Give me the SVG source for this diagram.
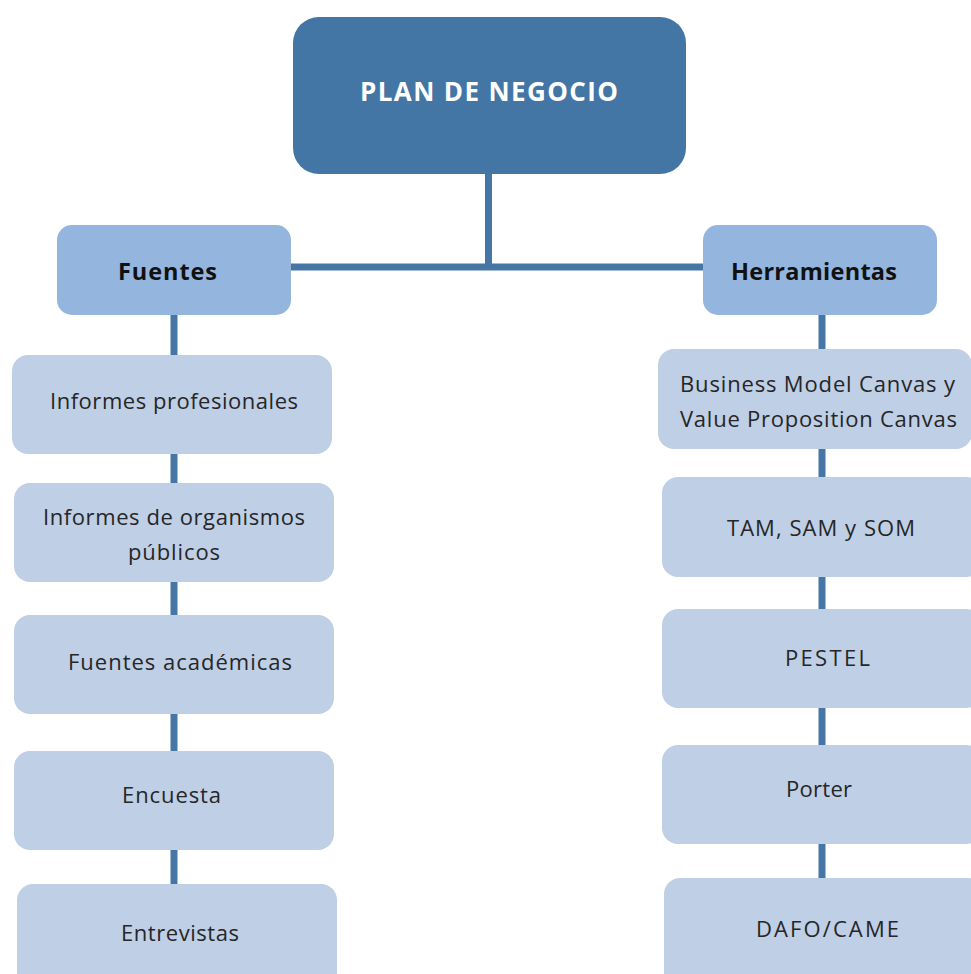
<svg xmlns="http://www.w3.org/2000/svg" width="971" height="974" viewBox="0 0 971 974">
<style>
.root{fill:#4476A5}
.mid{fill:#93B5DE}
.leaf{fill:#BFCFE6}
.conn{stroke:#4676A5;stroke-width:7;fill:none}
text{font-family:"Open Sans",Lato,"Liberation Sans",sans-serif;text-anchor:middle}
.t0{font-size:26px;font-weight:bold;fill:#ffffff}
.t1{font-size:23.5px;font-weight:bold;fill:#111111}
.t2{font-size:22px;fill:#262626}
</style>
<rect width="971" height="974" fill="#ffffff"/>
<g id="connectors">
<line class="conn" x1="488.5" y1="170" x2="488.5" y2="267"/>
<line class="conn" x1="288" y1="267" x2="706" y2="267"/>
<line class="conn" x1="174" y1="312" x2="174" y2="358"/>
<line class="conn" x1="174" y1="452" x2="174" y2="486"/>
<line class="conn" x1="174" y1="580" x2="174" y2="618"/>
<line class="conn" x1="174" y1="712" x2="174" y2="754"/>
<line class="conn" x1="174" y1="847" x2="174" y2="887"/>
<line class="conn" x1="822" y1="312" x2="822" y2="352"/>
<line class="conn" x1="822" y1="446" x2="822" y2="480"/>
<line class="conn" x1="822" y1="574" x2="822" y2="612"/>
<line class="conn" x1="822" y1="705" x2="822" y2="748"/>
<line class="conn" x1="822" y1="841" x2="822" y2="881"/>
</g>
<g id="plan">
<rect class="root" x="293" y="17" width="393" height="157" rx="26"/>
<text class="t0" x="489" y="101" textLength="258" lengthAdjust="spacing">PLAN DE NEGOCIO</text>
</g>
<g id="fuentes">
<rect class="mid" x="57" y="225" width="234" height="90" rx="15"/>
<text class="t1" x="167.5" y="280" textLength="99" lengthAdjust="spacing">Fuentes</text>
</g>
<g id="herramientas">
<rect class="mid" x="703" y="225" width="234" height="90" rx="15"/>
<text class="t1" x="814" y="280" textLength="166" lengthAdjust="spacing">Herramientas</text>
</g>
<g id="informes-profesionales">
<rect class="leaf" x="12" y="355" width="320" height="99" rx="16"/>
<text class="t2" x="174" y="409" textLength="248" lengthAdjust="spacing">Informes profesionales</text>
</g>
<g id="informes-organismos">
<rect class="leaf" x="14" y="483" width="320" height="99" rx="16"/>
<text class="t2" x="174" y="525" textLength="262" lengthAdjust="spacing">Informes de organismos</text>
<text class="t2" x="174" y="560" textLength="92" lengthAdjust="spacing">públicos</text>
</g>
<g id="fuentes-academicas">
<rect class="leaf" x="14" y="615" width="320" height="99" rx="16"/>
<text class="t2" x="180" y="670" textLength="224" lengthAdjust="spacing">Fuentes académicas</text>
</g>
<g id="encuesta">
<rect class="leaf" x="14" y="751" width="320" height="99" rx="16"/>
<text class="t2" x="171.5" y="803" textLength="99" lengthAdjust="spacing">Encuesta</text>
</g>
<g id="entrevistas">
<rect class="leaf" x="17" y="884" width="320" height="110" rx="16"/>
<text class="t2" x="180" y="941" textLength="118" lengthAdjust="spacing">Entrevistas</text>
</g>
<g id="bmc">
<rect class="leaf" x="658" y="349" width="314" height="100" rx="16"/>
<text class="t2" x="817.5" y="392" textLength="275" lengthAdjust="spacing">Business Model Canvas y</text>
<text class="t2" x="818.5" y="427" textLength="277" lengthAdjust="spacing">Value Proposition Canvas</text>
</g>
<g id="tam">
<rect class="leaf" x="662" y="477" width="320" height="100" rx="16"/>
<text class="t2" x="821" y="536" textLength="188" lengthAdjust="spacing">TAM, SAM y SOM</text>
</g>
<g id="pestel">
<rect class="leaf" x="662" y="609" width="320" height="99" rx="16"/>
<text class="t2" x="827.5" y="666" textLength="85" lengthAdjust="spacing">PESTEL</text>
</g>
<g id="porter">
<rect class="leaf" x="662" y="745" width="320" height="99" rx="16"/>
<text class="t2" x="819" y="797" textLength="66" lengthAdjust="spacing">Porter</text>
</g>
<g id="dafo">
<rect class="leaf" x="664" y="878" width="320" height="110" rx="16"/>
<text class="t2" x="827.5" y="937" textLength="143" lengthAdjust="spacing">DAFO/CAME</text>
</g>
</svg>
